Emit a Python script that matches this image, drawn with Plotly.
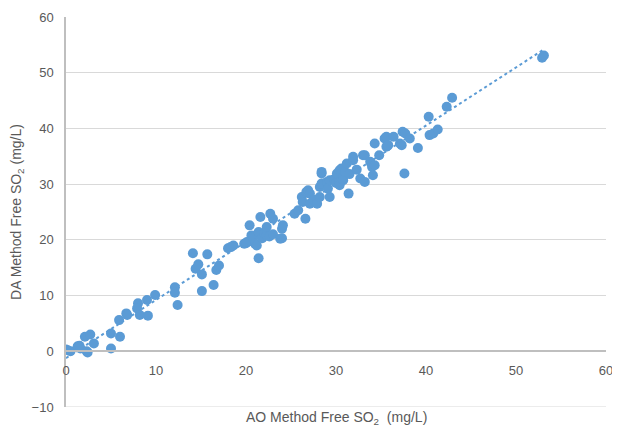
import numpy as np
import plotly.graph_objects as go

ao_free_so2 = [0.0, 0.2, 0.5, 1.3, 1.6, 1.5, 2.1, 2.3, 2.4, 2.7, 3.1, 5.0, 5.0, 6.0, 5.9, 6.7, 6.8,
               8.0, 7.9, 8.2, 9.1, 9.0, 9.9, 12.1, 12.1, 12.4,
               14.1, 14.4, 14.7, 15.1, 15.1, 15.7, 16.4, 16.7, 17.0, 18.0, 18.3, 18.6,
               19.8, 20.0, 20.1, 20.4, 20.5, 20.6, 20.8, 21.0, 21.2, 21.4, 21.4, 21.6, 21.8, 22.0,
               22.3, 22.3, 22.6, 22.7, 23.0, 23.0, 23.8, 24.0, 24.0, 24.1,
               25.4, 25.8, 26.2, 26.3, 26.6, 26.7, 26.9, 27.1, 27.1, 27.5, 27.9, 28.2, 28.2,
               28.4, 28.4, 28.4, 29.0, 29.1, 29.3, 29.3, 29.8, 30.0, 30.1, 30.4, 30.4, 30.4,
               30.6, 30.6, 30.8, 30.8, 31.0, 31.2, 31.4, 31.5, 31.9, 31.9, 32.3, 32.7, 33.0,
               33.2, 33.2, 33.8, 34.0, 34.1, 34.3, 34.3, 34.8, 35.4, 35.6, 35.6, 35.8, 36.4,
               37.1, 37.3, 37.4, 37.7, 37.6, 38.2, 39.1, 40.3, 40.4, 40.8, 41.3, 42.3, 42.9,
               52.9, 53.1]
da_free_so2 = [0.3, 0.2, 0.0, 0.9, 0.5, 1.0, 2.6, 0.0, -0.2, 3.0, 1.4, 3.2, 0.5, 2.6, 5.6, 6.8, 6.5,
               8.6, 7.7, 6.5, 6.4, 9.2, 10.1, 11.5, 10.5, 8.3,
               17.6, 14.8, 15.6, 13.8, 10.8, 17.4, 11.9, 14.6, 15.4, 18.5, 18.7, 19.0,
               19.3, 19.4, 19.6, 22.6, 19.8, 20.8, 20.4, 19.3, 19.0, 16.7, 21.4, 24.1, 20.3, 21.2,
               20.8, 22.3, 20.6, 24.7, 23.8, 21.0, 20.2, 20.3, 22.0, 22.6,
               24.7, 25.3, 27.7, 26.8, 23.8, 28.6, 28.9, 26.5, 28.3, 27.2, 26.5, 27.7, 29.5,
               31.9, 30.1, 32.2, 30.4, 29.2, 30.7, 27.7, 30.9, 30.2, 31.9, 32.5, 30.4, 29.8,
               32.8, 31.9, 31.3, 30.7, 32.2, 33.7, 28.3, 31.8, 34.3, 34.9, 32.6, 31.0, 35.2,
               30.4, 35.2, 34.0, 33.1, 31.6, 33.4, 37.3, 35.2, 38.2, 36.7, 38.5, 37.0, 38.5,
               37.3, 37.0, 39.4, 39.1, 31.9, 38.2, 36.5, 42.1, 38.8, 39.1, 39.8, 43.9, 45.5,
               52.7, 53.1]

x_ticks = [0, 10, 20, 30, 40, 50, 60]
y_ticks = [-10, 0, 10, 20, 30, 40, 50, 60]

blue = "#5B9BD5"
gray_text = "#595959"

xa = np.array(ao_free_so2)
ya = np.array(da_free_so2)
slope, intercept = np.polyfit(xa, ya, 1)
trend_x = np.array([xa.min(), xa.max()])
trend_y = slope * trend_x + intercept

fig = go.Figure()
fig.add_trace(go.Scatter(x=trend_x, y=trend_y, mode="lines",
                         line=dict(color=blue, width=2, dash="dot"),
                         hoverinfo="skip", showlegend=False))
fig.add_trace(go.Scatter(x=ao_free_so2, y=da_free_so2, mode="markers",
                         marker=dict(color=blue, size=10, line=dict(width=0)),
                         showlegend=False))

font_family = "Liberation Sans, Arial, sans-serif"
fig.update_layout(
    width=612, height=420,
    margin=dict(l=58, r=14, t=9, b=21, autoexpand=False),
    paper_bgcolor="white", plot_bgcolor="white",
    font=dict(family=font_family, size=13, color=gray_text),
    xaxis=dict(range=[0, 60], tickvals=x_ticks, showgrid=False, zeroline=False,
               showline=True, linecolor="#BFBFBF", linewidth=1.5, automargin=False,
               anchor="free", position=10 / 70, ticks="", ticklabelstandoff=7,
               tickfont=dict(size=13, color=gray_text)),
    yaxis=dict(range=[-10, 60], tickvals=y_ticks, showgrid=True, gridcolor="#D9D9D9",
               gridwidth=1, zeroline=False, showline=True, linecolor="#BFBFBF",
               linewidth=1.5, ticks="", automargin=False, ticklabelstandoff=8,
               tickfont=dict(size=13, color=gray_text),
               title=dict(text="DA Method Free SO<sub>2</sub> (mg/L)",
                          font=dict(size=14, color=gray_text), standoff=10)),
    shapes=[dict(type="line", xref="paper", yref="y", x0=0, x1=1, y0=-10, y1=-10,
                 line=dict(color="#D9D9D9", width=1), layer="below")],
    annotations=[dict(text="AO Method Free SO<sub>2</sub>  (mg/L)", xref="paper", yref="paper",
                      x=0.5, y=0, yshift=-11, showarrow=False, yanchor="middle",
                      font=dict(size=14, color=gray_text))],
)

fig.write_html("out.html")
